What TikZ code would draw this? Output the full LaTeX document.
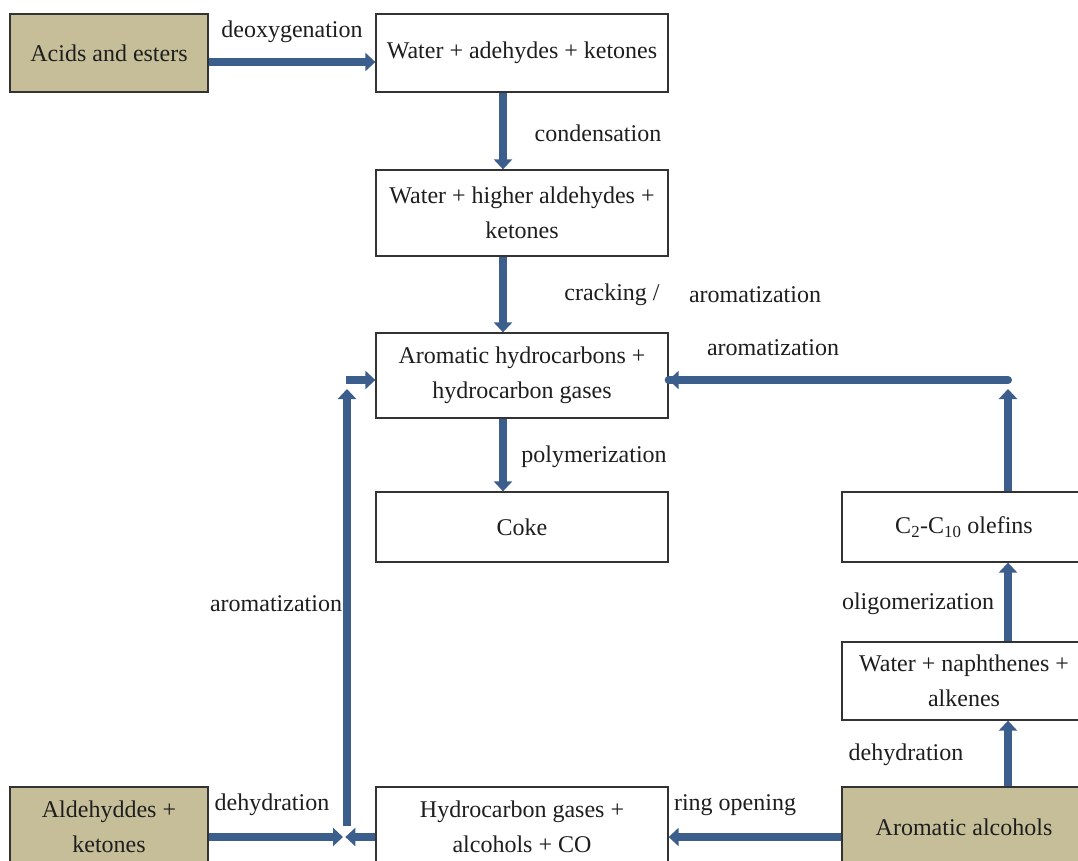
\documentclass[tikz,border=0pt]{standalone}
\usepackage{fontspec}
\setmainfont{Liberation Serif}
\usetikzlibrary{arrows.meta}
\definecolor{flowblue}{RGB}{59,94,140}
\definecolor{tanfill}{RGB}{198,190,152}
\definecolor{inkcol}{RGB}{30,30,30}
\tikzset{
  box/.style={draw=black!80, line width=1.3pt, fill=white, align=center, text=inkcol,
    inner sep=0pt, font=\fontsize{24}{35}\selectfont},
  tanbox/.style={box, fill=tanfill},
  lbl/.style={text=inkcol, inner sep=0pt, font=\fontsize{24}{35}\selectfont},
  arr/.style={draw=flowblue, line width=8pt, -{Triangle[width=18pt,length=10pt]}},
  bar/.style={draw=flowblue, line width=8pt, line cap=round},
}
\begin{document}
\begin{tikzpicture}[x=1pt,y=-1pt]
\clip (0,0) rectangle (1078,861);
\fill[white] (0,0) rectangle (1078,861);
% boxes
\node[tanbox, minimum width=198pt, minimum height=78pt] (acids) at (109,53) {Acids and esters};
\node[box, minimum width=292pt, minimum height=78pt] (w1) at (522,53) {Water + adehydes + ketones};
\node[box, minimum width=292pt, minimum height=86pt] (w2) at (522,213) {Water + higher aldehydes +\\ketones};
\node[box, minimum width=292pt, minimum height=85pt] (arom) at (522,375.5) {Aromatic hydrocarbons +\\hydrocarbon gases};
\node[box, minimum width=292pt, minimum height=70pt] (coke) at (522,527) {Coke};
\node[box, minimum width=244pt, minimum height=70pt] (olef) at (964,527) {C\textsubscript{2}-C\textsubscript{10} olefins};
\node[box, minimum width=244pt, minimum height=78pt] (naph) at (964,681) {Water + naphthenes +\\alkenes};
\node[tanbox, minimum width=244pt, minimum height=80pt] (alc) at (964,827) {Aromatic alcohols};
\node[box, minimum width=292pt, minimum height=80pt] (hcg) at (522,827) {Hydrocarbon gases +\\alcohols + CO};
\node[tanbox, minimum width=198pt, minimum height=80pt] (ald) at (109,827) {Aldehyddes +\\ketones};
% junction coordinates
\coordinate (jl) at (347,380);
\coordinate (jlb) at (347,826);
\coordinate (jr) at (1008,380);
\coordinate (jrb) at (1008,389);
% connectors
\draw[arr] ([yshift=-9pt]acids.east) -- ([yshift=-9pt]w1.west);
\draw[arr] (w1.south -| 503,0) -- (w2.north -| 503,0);
\draw[arr] (w2.south -| 503,0) -- (arom.north -| 503,0);
\draw[arr] (arom.south -| 503,0) -- (coke.north -| 503,0);
\draw[arr] (alc.north -| jr) -- (naph.south -| jr);
\draw[arr] (naph.north -| jr) -- (olef.south -| jr);
\draw[arr] (olef.north -| jr) -- (jrb);
\draw[bar] (jr) -- ([yshift=-4.5pt]arom.east);
\draw[arr, line cap=butt] ([xshift=-4pt]jr) -- ([yshift=-4.5pt]arom.east);
\draw[arr] ([yshift=-10pt]alc.west) -- ([yshift=-10pt]hcg.west -| hcg.east);
\draw[arr] ([yshift=-10pt]hcg.west) -- +(-30,0) coordinate (tipl);
\draw[arr] ([yshift=-10pt]ald.east) -- ([yshift=-10pt]ald.east -| 343,0);
\draw[arr, shorten >=0pt] (jlb) -- (347,389);
\draw[arr] (346,380) -- ([yshift=-4.5pt]arom.west);
% labels
\node[lbl] (l1) at (292,32) {deoxygenation};
\node[lbl] (l2) at (598,133) {condensation};
\node[lbl] (l3) at (612,295) {cracking /};
\node[lbl] (l4) at (755,295) {aromatization};
\node[lbl] (l5) at (773,348) {aromatization};
\node[lbl] (l6) at (594,457) {polymerization};
\node[lbl] (l7) at (276,604) {aromatization};
\node[lbl] (l8) at (918,604) {oligomerization};
\node[lbl] (l9) at (906,755) {dehydration};
\node[lbl] (l10) at (272,805) {dehydration};
\node[lbl] (l11) at (735,805) {ring opening};
\end{tikzpicture}
\end{document}
